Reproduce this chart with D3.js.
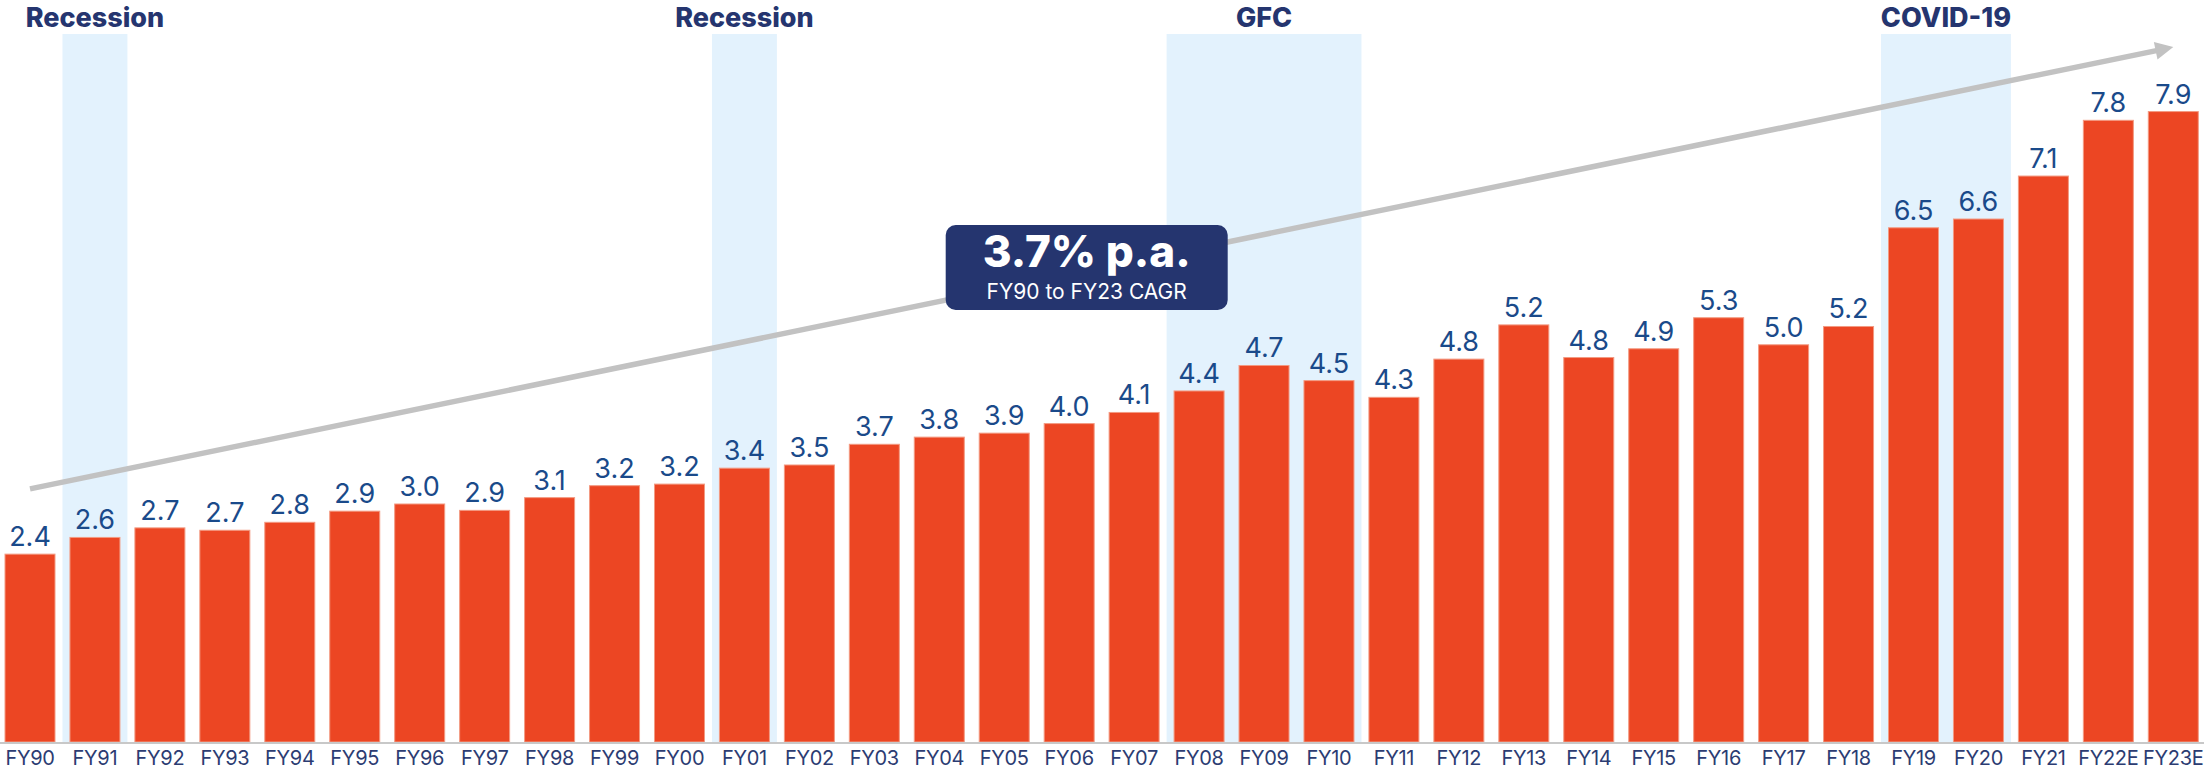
<!DOCTYPE html>
<html>
<head>
<meta charset="utf-8">
<script src="https://cdn.jsdelivr.net/npm/d3@7"></script>
<style>
  html, body { margin: 0; padding: 0; background: #ffffff; }
  svg { display: block; }
  text { font-family: Inter, "Open Sans", "DejaVu Sans", sans-serif; }
</style>
</head>
<body>
<svg id="chart" width="2204" height="770"></svg>
<script>
// ---- data ----
const categories = ["FY90","FY91","FY92","FY93","FY94","FY95","FY96","FY97","FY98","FY99","FY00","FY01","FY02","FY03","FY04","FY05","FY06","FY07","FY08","FY09","FY10","FY11","FY12","FY13","FY14","FY15","FY16","FY17","FY18","FY19","FY20","FY21","FY22E","FY23E"];
const values = [2.36,2.57,2.69,2.66,2.76,2.90,2.99,2.91,3.07,3.22,3.24,3.44,3.48,3.74,3.83,3.88,4.00,4.14,4.41,4.73,4.54,4.33,4.81,5.24,4.83,4.94,5.33,4.99,5.22,6.46,6.57,7.11,7.81,7.92];
const shadeNames = ["Recession","Recession","GFC","COVID-19"];
const shadeFrom  = ["FY91","FY01","FY08","FY19"];
const shadeTo    = ["FY91","FY01","FY10","FY20"];
const trendCats  = ["FY90","FY23E"];
const trendVals  = [3.18, 8.73];
const cagrTitle = "3.7% p.a.";
const cagrSub = "FY90 to FY23 CAGR";

// ---- layout ----
const W = 2204, H = 770;
const baseY = 742;
const svg = d3.select("#chart");

const x = d3.scaleBand().domain(categories).range([5, 2198.3]).paddingInner(0.2302).paddingOuter(0);
const y = d3.scaleLinear().domain([0, 8]).range([baseY, baseY - 79.6 * 8]);
const step = x.step();
const gap = step - x.bandwidth();

// shading
const shades = shadeNames.map((n, i) => ({name: n, from: shadeFrom[i], to: shadeTo[i]}));
const shadeTop = 34;
svg.append("g").selectAll("rect").data(shades).join("rect")
  .attr("x", d => x(d.from) - gap / 2)
  .attr("width", d => x(d.to) + x.bandwidth() + gap / 2 - (x(d.from) - gap / 2))
  .attr("y", shadeTop)
  .attr("height", baseY - shadeTop)
  .attr("fill", "#e3f2fd");

svg.append("g").selectAll("text").data(shades).join("text")
  .attr("x", d => (x(d.from) + x(d.to) + x.bandwidth()) / 2)
  .attr("y", 26.5)
  .attr("text-anchor", "middle")
  .attr("font-size", 27)
  .attr("font-weight", 800)
  .attr("fill", "#25356f")
  .text(d => d.name);

// trend arrow
const tx0 = x(trendCats[0]) + x.bandwidth() / 2, ty0 = y(trendVals[0]);
const tx1 = x(trendCats[1]) + x.bandwidth() / 2, ty1 = y(trendVals[1]);
const ang = Math.atan2(ty1 - ty0, tx1 - tx0);
const headLen = 18, headW = 9;
const bx = tx1 - headLen * Math.cos(ang), by = ty1 - headLen * Math.sin(ang);
svg.append("line")
  .attr("x1", tx0).attr("y1", ty0).attr("x2", bx + 2 * Math.cos(ang)).attr("y2", by + 2 * Math.sin(ang))
  .attr("stroke", "#c2c2c2").attr("stroke-width", 5.5);
svg.append("path")
  .attr("d", d3.line()([
    [tx1, ty1],
    [bx + headW * Math.sin(ang), by - headW * Math.cos(ang)],
    [bx - headW * Math.sin(ang), by + headW * Math.cos(ang)]
  ]) + "Z")
  .attr("fill", "#c2c2c2");

// bars
const data = categories.map((c, i) => ({cat: c, v: values[i]}));
svg.append("g").selectAll("rect").data(data).join("rect")
  .attr("x", d => x(d.cat))
  .attr("width", x.bandwidth())
  .attr("y", d => y(d.v))
  .attr("height", d => baseY - y(d.v))
  .attr("fill", "#ec4623")
  .attr("stroke", "#f39a82")
  .attr("stroke-width", 1);

// value labels
svg.append("g").selectAll("text").data(data).join("text")
  .attr("x", d => x(d.cat) + x.bandwidth() / 2)
  .attr("y", d => y(d.v) - 8)
  .attr("text-anchor", "middle")
  .attr("font-size", 27)
  .attr("fill", "#1a4a8a")
  .text(d => d3.format(".1f")(d.v));

// axis
svg.append("line").attr("x1", 0).attr("x2", W).attr("y1", baseY + 1).attr("y2", baseY + 1)
  .attr("stroke", "#c8c8c8").attr("stroke-width", 2);
const axis = svg.append("g").attr("transform", `translate(0,${baseY})`)
  .call(d3.axisBottom(x).tickSize(0).tickPadding(0));
axis.select(".domain").remove();
axis.selectAll("text")
  .attr("y", 23).attr("dy", 0)
  .attr("font-size", 20)
  .attr("letter-spacing", "-0.3px")
  .attr("font-family", "Inter, 'Open Sans', sans-serif")
  .attr("fill", "#2c3c72");

// CAGR box
const box = svg.append("g");
box.append("rect").attr("x", 945.7).attr("y", 225).attr("width", 282).attr("height", 85)
  .attr("rx", 10).attr("fill", "#25356f");
box.append("text").attr("x", 1086.7).attr("y", 267).attr("text-anchor", "middle")
  .attr("font-size", 44).attr("font-weight", 800).attr("fill", "#ffffff").text(cagrTitle);
box.append("text").attr("x", 1086.7).attr("y", 299).attr("text-anchor", "middle")
  .attr("font-size", 21).attr("fill", "#ffffff").text(cagrSub);
</script>
</body>
</html>
